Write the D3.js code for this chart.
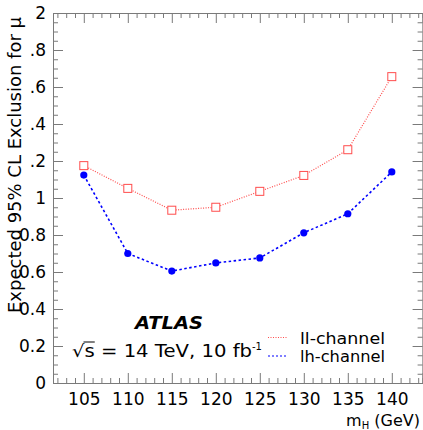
<!DOCTYPE html>
<html>
<head>
<meta charset="utf-8">
<script src="https://cdn.jsdelivr.net/npm/d3@7"></script>
<style>
  body { margin: 0; background: #fff; }
  svg { display: block; font-family: "DejaVu Sans", sans-serif; }
</style>
</head>
<body>
<svg width="423" height="430"></svg>
<script>
// expected 95% CL exclusion
const masses = [105, 110, 115, 120, 125, 130, 135, 140]
const llChannel = [1.175, 1.052, 0.934, 0.950, 1.036, 1.122, 1.261, 1.656]
const lhChannel = [1.124, 0.700, 0.605, 0.649, 0.676, 0.812, 0.915, 1.141]
const xMajor = [105, 110, 115, 120, 125, 130, 135, 140]
const yMajor = [0, 0.2, 0.4, 0.6, 0.8, 1, 1.2, 1.4, 1.6, 1.8, 2]

const axisColor = "#7a7a7a"
const fontFam = "DejaVu Sans, sans-serif"
const padL = 53, padR = 422.6, padT = 13, padB = 383

const svg = d3.select("svg")

const x = d3.scaleLinear().domain([101.5, 143.5]).range([padL, padR])
const y = d3.scaleLinear().domain([0, 2]).range([padB, padT])

const xMinor = d3.range(102, 144).filter(v => v % 5 !== 0)
const yMinor = d3.range(0, 41).map(i => i * 0.05).filter((v, i) => i % 4 !== 0)

// labels as they appear in the reference (leading "1" missing above 1)
function yFmt(v) {
  const r = Math.round(v * 10) / 10
  if (r === 0 || r === 1 || r === 2) return String(r)
  if (r < 1) return r.toFixed(1)
  return "." + Math.round((r - 1) * 10)
}

function styleAxis(g) {
  g.select(".domain").attr("stroke", axisColor).attr("stroke-width", 1)
  g.selectAll(".tick line").attr("stroke", axisColor).attr("stroke-width", 1)
  g.selectAll(".tick text").attr("fill", "#000").style("font-size", "17px")
    .style("font-family", fontFam)
}

// bottom
svg.append("g").attr("transform", `translate(0,${padB})`)
  .call(d3.axisBottom(x).tickValues(xMinor).tickSize(-5).tickFormat(""))
  .call(styleAxis)
svg.append("g").attr("transform", `translate(0,${padB})`)
  .call(d3.axisBottom(x).tickValues(xMajor).tickSize(-10).tickPadding(10).tickFormat(d3.format("d")))
  .call(styleAxis)
// top
svg.append("g").attr("transform", `translate(0,${padT})`)
  .call(d3.axisTop(x).tickValues(xMinor).tickSize(-5).tickFormat(""))
  .call(styleAxis)
svg.append("g").attr("transform", `translate(0,${padT})`)
  .call(d3.axisTop(x).tickValues(xMajor).tickSize(-10).tickFormat(""))
  .call(styleAxis)
// left
svg.append("g").attr("transform", `translate(${padL},0)`)
  .call(d3.axisLeft(y).tickValues(yMinor).tickSize(-5).tickFormat(""))
  .call(styleAxis)
svg.append("g").attr("transform", `translate(${padL},0)`)
  .call(d3.axisLeft(y).tickValues(yMajor).tickSize(-10).tickPadding(7).tickFormat(yFmt))
  .call(styleAxis)
// right
svg.append("g").attr("transform", `translate(${padR},0)`)
  .call(d3.axisRight(y).tickValues(yMinor).tickSize(-5).tickFormat(""))
  .call(styleAxis)
svg.append("g").attr("transform", `translate(${padR},0)`)
  .call(d3.axisRight(y).tickValues(yMajor).tickSize(-10).tickFormat(""))
  .call(styleAxis)

// axis titles
svg.append("text")
  .attr("transform", "rotate(-90)")
  .attr("x", -17).attr("y", 21)
  .attr("text-anchor", "end")
  .attr("textLength", 296).attr("lengthAdjust", "spacingAndGlyphs")
  .style("font-size", "17px")
  .text("Expected 95% CL Exclusion for μ")

const xt = svg.append("text")
  .attr("x", 420).attr("y", 425.5)
  .attr("text-anchor", "end")
  .style("font-size", "16px")
xt.append("tspan").text("m")
xt.append("tspan").attr("dy", 3).style("font-size", "10px").text("H")
xt.append("tspan").attr("dy", -3).text(" (GeV)")

// series
const line = d3.line().x((d, i) => x(masses[i])).y(d => y(d))

svg.append("path").datum(llChannel)
  .attr("d", line).attr("fill", "none")
  .attr("stroke", "#ff4d4d").attr("stroke-width", 1.2)
  .attr("stroke-dasharray", "1,1.5")

svg.append("path").datum(lhChannel)
  .attr("d", line).attr("fill", "none")
  .attr("stroke", "#0000ff").attr("stroke-width", 1.6)
  .attr("stroke-dasharray", "2.5,2.5")

svg.append("g").selectAll("rect").data(llChannel).enter().append("rect")
  .attr("x", (d, i) => x(masses[i]) - 4)
  .attr("y", d => y(d) - 4)
  .attr("width", 8).attr("height", 8)
  .attr("fill", "#fff").attr("stroke", "#ff4d4d").attr("stroke-width", 1)

svg.append("g").selectAll("circle").data(lhChannel).enter().append("circle")
  .attr("cx", (d, i) => x(masses[i]))
  .attr("cy", d => y(d))
  .attr("r", 3.6)
  .attr("fill", "#0000ff")

// labels
svg.append("text")
  .attr("x", 135).attr("y", 329)
  .attr("textLength", 68).attr("lengthAdjust", "spacingAndGlyphs")
  .style("font-size", "17px").style("font-weight", "bold").style("font-style", "italic")
  .text("ATLAS")

const sqX = 72, sqEnd = 252
const sq = svg.append("text").attr("x", sqX).attr("y", 357).style("font-size", "17px")
  .text("√s = 14 TeV, 10 fb")
const natural = sq.node().getComputedTextLength()
const ratio = (sqEnd - sqX) / natural
const sx0 = sqX + sq.node().getSubStringLength(0, 1) * ratio
const sw = sq.node().getSubStringLength(1, 1) * ratio
sq.attr("textLength", sqEnd - sqX).attr("lengthAdjust", "spacingAndGlyphs")
svg.append("text").attr("x", sqEnd).attr("y", 350).style("font-size", "10px").text("-1")
svg.append("line")
  .attr("x1", sx0 - 1).attr("x2", sx0 + sw)
  .attr("y1", 342).attr("y2", 342)
  .attr("stroke", "#000").attr("stroke-width", 1)

// legend
const legend = [
  {name: "ll-channel", color: "#ff4d4d", dash: "1,1.5", w: 1.2, yy: 337.5},
  {name: "lh-channel", color: "#0000ff", dash: "2,2", w: 1.2, yy: 356}
]
legend.forEach(l => {
  svg.append("line")
    .attr("x1", 268).attr("x2", 287).attr("y1", l.yy).attr("y2", l.yy)
    .attr("stroke", l.color).attr("stroke-width", l.w).attr("stroke-dasharray", l.dash)
  svg.append("text")
    .attr("x", 300).attr("y", l.yy + 6)
    .attr("textLength", 85).attr("lengthAdjust", "spacingAndGlyphs")
    .style("font-size", "16px")
    .text(l.name)
})
</script>
</body>
</html>
